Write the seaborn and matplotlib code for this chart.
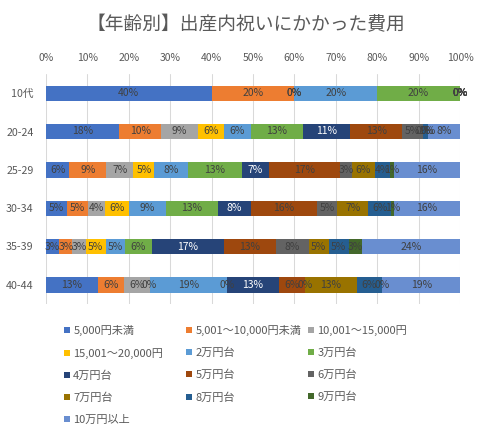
import matplotlib
matplotlib.use("Agg")
import matplotlib.pyplot as plt
from matplotlib.lines import Line2D
from matplotlib.ticker import FuncFormatter
import seaborn as sns

# 年代
ages = ["10代", "20-24", "25-29", "30-34", "35-39", "40-44"]

categories = [
    "5,000円未満", "5,001～10,000円未満", "10,001～15,000円",
    "15,001～20,000円", "2万円台", "3万円台", "4万円台", "5万円台",
    "6万円台", "7万円台", "8万円台", "9万円台", "10万円以上",
]

colors = [
    "#4472C4", "#ED7D31", "#A5A5A5", "#FFC000", "#5B9BD5", "#70AD47",
    "#264478", "#9E480E", "#636363", "#997300", "#255E91", "#43682B",
    "#698ED0",
]

# 割合(%)  各年代 × 費用区分
v_10 = [40, 20, 0, 0, 20, 20, 0, 0, 0, 0, 0, 0, 0]
v_20_24 = [17.7, 10.1, 8.9, 6.3, 6.4, 12.7, 11.4, 12.6, 5.0, 0, 1.2, 0, 7.7]
v_25_29 = [5.6, 9.0, 6.5, 5.1, 8.0, 13.1, 6.5, 17.2, 2.9, 5.5, 3.7, 0.9, 16.0]
v_30_34 = [5.0, 5.1, 4.2, 5.8, 8.8, 12.6, 7.9, 16.0, 5.0, 7.4, 5.6, 0.6, 16.0]
v_35_39 = [3.2, 3.2, 3.2, 4.8, 4.8, 6.3, 17.4, 12.7, 7.9, 4.8, 4.8, 3.2, 23.7]
v_40_44 = [12.5, 6.25, 6.25, 0, 18.75, 0, 12.5, 6.25, 0, 12.5, 6.25, 0, 18.75]

rows = [v_10, v_20_24, v_25_29, v_30_34, v_35_39, v_40_44]

sns.set_style("white")
plt.rcParams["font.family"] = ["Noto Sans CJK JP", "DejaVu Sans"]

fig = plt.figure(figsize=(4.91, 4.32), dpi=100)
ax = fig.add_axes([46 / 491, 1 - 304 / 432, 414 / 491, 230 / 432])

# 累積値
cums = []
for r in rows:
    c = []
    s = 0
    for v in r:
        s += v
        c.append(s)
    cums.append(c)

# 後ろの区分から重ねて描く
for i in range(len(categories) - 1, -1, -1):
    sns.barplot(
        x=[c[i] for c in cums],
        y=ages,
        order=ages,
        orient="h",
        color=colors[i],
        saturation=1,
        width=0.4,
        linewidth=0,
        errorbar=None,
        ax=ax,
    )

# データラベル
for j, r in enumerate(rows):
    for i, v in enumerate(r):
        center = cums[j][i] - v / 2
        txt_color = "white" if i == 6 else "#404040"
        ax.text(center, j, f"{int(v + 0.5)}%", ha="center", va="center",
                fontsize=7.5, color=txt_color)

ax.set_xlim(0, 100)
ax.set_xticks(range(0, 101, 10))
ax.xaxis.set_major_formatter(FuncFormatter(lambda x, p: f"{x:.0f}%"))
ax.xaxis.tick_top()
ax.tick_params(axis="x", length=0, pad=8, labelsize=7.5, labelcolor="#595959")
ax.tick_params(axis="y", length=0, pad=9, labelsize=7.7, labelcolor="#595959")
ax.set_xlabel("")
ax.set_ylabel("")
ax.xaxis.grid(True, color="#D9D9D9", linewidth=0.75)
ax.set_axisbelow(True)
sns.despine(ax=ax, left=True, bottom=True)

fig.text(0.5, 1 - 25 / 432, "【年齢別】出産内祝いにかかった費用",
         ha="center", va="center", fontsize=13.5, color="#595959")

# 凡例(行方向に並べるため列ごとに作る)
handles = [
    Line2D([0], [0], marker="s", linestyle="none", markersize=4.8,
           markerfacecolor=c, markeredgewidth=0)
    for c in colors
]
col_x = [63.5, 185.5, 307.5]
for k in range(3):
    idx = list(range(k, len(categories), 3))
    fig.legend(
        [handles[i] for i in idx],
        [categories[i] for i in idx],
        loc="upper left",
        bbox_to_anchor=(col_x[k] / 491, 1 - 325 / 432),
        frameon=False,
        borderpad=0,
        borderaxespad=0,
        handlelength=0.7,
        handletextpad=0.18,
        labelspacing=1.05,
        fontsize=8,
        labelcolor="#595959",
    )

fig.savefig("out.png", dpi=100)
